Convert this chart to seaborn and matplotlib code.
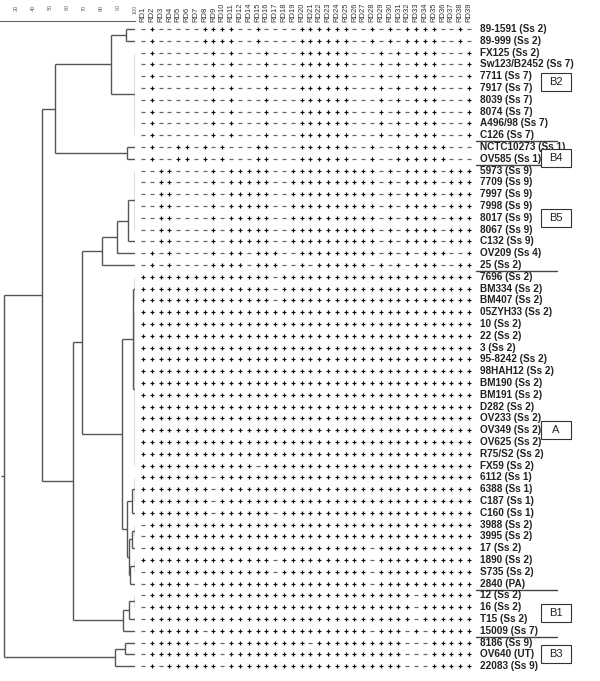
import numpy as np
import pandas as pd
import matplotlib
matplotlib.use("Agg")
import matplotlib.pyplot as plt
from matplotlib.patches import Rectangle
import seaborn as sns

sns.set_theme(style="white")
plt.rcParams["font.family"] = ["Liberation Sans", "DejaVu Sans"]

# ---------------- data ----------------
strains = ["89-1591 (Ss 2)", "89-999 (Ss 2)", "FX125 (Ss 2)", "Sw123/B2452 (Ss 7)", "7711 (Ss 7)",
           "7917 (Ss 7)", "8039 (Ss 7)", "8074 (Ss 7)", "A496/98 (Ss 7)", "C126 (Ss 7)",
           "NCTC10273 (Ss 1)", "OV585 (Ss 1)", "5973 (Ss 9)", "7709 (Ss 9)", "7997 (Ss 9)",
           "7998 (Ss 9)", "8017 (Ss 9)", "8067 (Ss 9)", "C132 (Ss 9)", "OV209 (Ss 4)",
           "25 (Ss 2)", "7696 (Ss 2)", "BM334 (Ss 2)", "BM407 (Ss 2)", "05ZYH33 (Ss 2)",
           "10 (Ss 2)", "22 (Ss 2)", "3 (Ss 2)", "95-8242 (Ss 2)", "98HAH12 (Ss 2)",
           "BM190 (Ss 2)", "BM191 (Ss 2)", "D282 (Ss 2)", "OV233 (Ss 2)", "OV349 (Ss 2)",
           "OV625 (Ss 2)", "R75/S2 (Ss 2)", "FX59 (Ss 2)", "6112 (Ss 1)", "6388 (Ss 1)",
           "C187 (Ss 1)", "C160 (Ss 1)", "3988 (Ss 2)", "3995 (Ss 2)", "17 (Ss 2)",
           "1890 (Ss 2)", "S735 (Ss 2)", "2840 (PA)", "12 (Ss 2)", "16 (Ss 2)",
           "T15 (Ss 2)", "15009 (Ss 7)", "8186 (Ss 9)", "OV640 (UT)", "22083 (Ss 9)"]

rd_labels = ["RD1", "RD2", "RD3", "RD4", "RD5", "RD6", "RD7", "RD8", "RD9", "RD10", "RD11",
             "RD12", "RD14", "RD15", "RD16", "RD17", "RD18", "RD19", "RD20", "RD21", "RD22",
             "RD23", "RD24", "RD25", "RD26", "RD27", "RD28", "RD29", "RD30", "RD31", "RD32",
             "RD33", "RD34", "RD35", "RD36", "RD37", "RD38", "RD39"]

profiles = [
    "-+-----++++--+----++++++--+-+-++++--+--",
    "-+-----++++--+----++++++--+-+-++++--+--",
    "-+------+-+---+---++++++---+-+-+++---+-",
    "-+------+-+---+---++++++---+-+-+++---+-",
    "-+------+-+---+---++++++---+-+-+++---+-",
    "-+------+-+---+---++++++---+-+-+++---+-",
    "-+------+-+---+---++++++---+-+-+++---+-",
    "-+------+-+---+---++++++---+-+-+++---+-",
    "-+------+-+---+---++++++---+-+-+++---+-",
    "-+------+-+---+---++++++---+-+-+++---+-",
    "-+--++-+-+---++---++++++--+--++++++---+",
    "-+--++-+-+---++---++++++--+--++++++---+",
    "--++----+-+++++--++++++++++-+-++++-++++",
    "--++----+-+++++--++++++++++-+-++++-++++",
    "--++----+-+++++--++++++++++-+-++++-++++",
    "--++----+-+++++--++++++++++-+-++++-++++",
    "--++----+-+++++--++++++++++-+-++++-++++",
    "--++----+-+++++--++++++++++-+-++++-++++",
    "--++----+-+++++--++++++++++-+-++++-++++",
    "-+-+----+-++-+++--+++++++++-+-+-+++--++",
    "-+-+----++++-+++--+-++++++-+-+-+++--+++",
    "+++++++++++++++-+++++++++++++++++++++++",
    "+++++++++++++++-+++++++++++++++++++++++",
    "+++++++++++++++-+++++++++++++++++++++++",
    "+++++++++++++++++++++++++++++++++++++++",
    "+++++++++++++++++++++++++++++++++++++++",
    "+++++++++++++++++++++++++++++++++++++++",
    "+++++++++++++++++++++++++++++++++++++++",
    "+++++++++++++++++++++++++++++++++++++++",
    "+++++++++++++++++++++++++++++++++++++++",
    "+++++++++++++++++++++++++++++++++++++++",
    "+++++++++++++++++++++++++++++++++++++++",
    "+++++++++++++++++++++++++++++++++++++++",
    "+++++++++++++++++++++++++++++++++++++++",
    "+++++++++++++++++++++++++++++++++++++++",
    "+++++++++++++++++++++++++++++++++++++++",
    "+++++++++++++++++++++++++++++++++++++++",
    "+++++++++++++-+++++++++++++++++++++++++",
    "++++++++-++++++++++++++++++++++++++++++",
    "++++++++-++++++++++++++++++++++++++++++",
    "++++++++-++++++++++++++++++++++++++++++",
    "++++++++-++++++-+++++++++++++++++++++++",
    "-++++++++++++++++++++++++++++++++++++++",
    "-++++++++++++++++++++++++++++++++++++++",
    "-+++++++++++++++++++++++++-++++++++++++",
    "+++++++++++++++-++++++++++-++++++++++++",
    "-++++++++++++++-++++++++++-++++++++++++",
    "-+++++-+++++++++++++++++++-++++++++++++",
    "-++++++++++++++++++++++++++++++-+++++++",
    "-++++++++++++++++++++++++++++++-+++++++",
    "-++++++++++++++++++++++++++++++-+++++++",
    "-++++++-++++++++++++++++++-+++-+-++++++",
    "-+++++-++-+++++++++-++++++++++---++++++",
    "-++++++++-++++++++++++++++++++---++++++",
    "-+-++++++-++++++++++++++++++++---++++++",
]

# dendrogram nodes: name, similarity (%), children (leaf indices or node names)
node_names = ["b2a", "b2b", "b2", "b4", "b24",
              "b5a", "b5b", "b5c", "b5",
              "a1", "a2", "a12", "a3", "a34", "a5", "a56", "a7", "a78", "aL", "aB", "a",
              "y", "b1a", "b1b", "b1", "x", "up", "b3a", "b3", "root"]
node_sims = [94.7, 100, 85.9, 95.3, 52.9,
             100, 95.9, 89.4, 80.6,
             100, 100, 98.6, 100, 98.0, 100, 98.0, 100, 97.0, 96.5, 95.5, 92.5,
             68.8, 100, 96.5, 93.0, 63.5, 45.3, 94.0, 88.0, 22.9]
node_children = [[0, 1], list(range(2, 10)), ["b2a", "b2b"], [10, 11], ["b2", "b4"],
                 list(range(12, 18)), ["b5a", 18], ["b5b", 19], ["b5c", 20],
                 [21, 22, 23], list(range(24, 38)), ["a1", "a2"], [38, 39, 40], ["a3", 41],
                 [42, 43], ["a5", 44], [45, 46], ["a7", 47], ["a56", "a78"], ["a34", "aL"], ["a12", "aB"],
                 ["b5", "a"], [48, 49], ["b1a", 50], ["b1b", 51], ["y", "b1"], ["b24", "x"],
                 [52, 53], ["b3a", 54], ["up", "b3"]]

scale_ticks = [30, 40, 50, 60, 70, 80, 90, 100]

group_names = ["B2", "B4", "B5", "A", "B1", "B3"]
group_label_rows = [4.5, 10.95, 16.0, 34.0, 49.5, 53.0]
separator_after_rows = [9, 11, 20, 47, 51]

# ---------------- layout ----------------
W, H = 600, 681
n_rows, n_cols = len(strains), len(rd_labels)
row_y0, row_dy = 29.0, 11.8
col_x0, col_dx = 143.0, 8.81

fig = plt.figure(figsize=(W / 100, H / 100), dpi=100)
fig.patch.set_facecolor("white")

def fig_rect(x0, y0, x1, y1):
    return [x0 / W, 1 - y1 / H, (x1 - x0) / W, (y1 - y0) / H]

top_px = row_y0 - row_dy / 2
bot_px = row_y0 + (n_rows - 0.5) * row_dy

# matrix axis
mx0 = col_x0 - col_dx / 2
mx1 = col_x0 + (n_cols - 0.5) * col_dx
ax_m = fig.add_axes(fig_rect(mx0, top_px, mx1, bot_px))
recs = []
for i, p in enumerate(profiles):
    for j in range(n_cols):
        recs.append({"row": i, "col": j, "val": p[j]})
df = pd.DataFrame(recs)
sns.scatterplot(data=df[df.val == "+"], x="col", y="row", marker="+", s=12,
                color="#111111", linewidth=0.85, ax=ax_m, legend=False)
sns.scatterplot(data=df[df.val == "-"], x="col", y="row", marker="_", s=5,
                color="#666666", linewidth=0.9, ax=ax_m, legend=False)
ax_m.set_xlim(-0.5, n_cols - 0.5)
ax_m.set_ylim(n_rows - 0.5, -0.5)
ax_m.axis("off")

for i, s in enumerate(strains):
    ax_m.text(n_cols - 0.5 + 0.75, i, s, ha="left", va="center", fontsize=7.2,
              fontweight="bold", color="#222222", clip_on=False)
for j, lab in enumerate(rd_labels):
    ax_m.text(j, -0.6, lab, rotation=90, ha="center", va="bottom", fontsize=5.5,
              color="#333333", clip_on=False)

# separators and group boxes
lab_x0 = n_cols - 0.5 + 0.3
lab_x1 = n_cols - 0.5 + 9.5
for r in separator_after_rows:
    ax_m.plot([lab_x0, lab_x1], [r + 0.5, r + 0.5], color="#444444", lw=1.0, clip_on=False)
box_x0 = (541 - col_x0) / col_dx
box_w = 30 / col_dx
box_h = 18 / row_dy
for g, r in zip(group_names, group_label_rows):
    ax_m.add_patch(Rectangle((box_x0, r - box_h / 2), box_w, box_h, fc="white",
                             ec="#333333", lw=0.8, clip_on=False, zorder=5))
    ax_m.text(box_x0 + box_w / 2, r, g, ha="center", va="center", fontsize=8,
              color="#222222", clip_on=False, zorder=6)

# dendrogram axis
leaf_px = 135.0
px_per_unit = 1.7
sim_min = 100 - (leaf_px - 0) / px_per_unit
ax_d = fig.add_axes(fig_rect(0, top_px, leaf_px, bot_px))
ax_d.set_xlim(sim_min, 100)
ax_d.set_ylim(n_rows - 0.5, -0.5)
ax_d.axis("off")

pos = {}
def node_pos(c):
    if isinstance(c, int):
        return 100.0, float(c)
    return pos[c]

segs = []
for name, sim, ch in zip(node_names, node_sims, node_children):
    pts = [node_pos(c) for c in ch]
    ys = [p[1] for p in pts]
    for (cx, cy) in pts:
        if cx != sim:
            segs.append(((cx, cy), (sim, cy)))
    segs.append(((sim, min(ys)), (sim, max(ys))))
    pos[name] = (sim, (min(ys) + max(ys)) / 2)
rx, ry = pos["root"]
segs.append(((rx - 1.5, ry), (rx, ry)))
for (a, b) in segs:
    ax_d.plot([a[0], b[0]], [a[1], b[1]], color="#555555", lw=1.0, solid_capstyle="butt")

# similarity scale
ax_s = fig.add_axes(fig_rect(0, 6, leaf_px, 21))
ax_s.set_xlim(sim_min, 100)
ax_s.set_ylim(0, 1)
for sp in ["top", "left", "right"]:
    ax_s.spines[sp].set_visible(False)
ax_s.spines["bottom"].set_color("#666666")
ax_s.spines["bottom"].set_linewidth(0.8)
ax_s.set_yticks([])
ax_s.set_xticks(scale_ticks)
ax_s.set_xticks(np.arange(25, 101, 1), minor=True)
ax_s.tick_params(axis="x", which="major", direction="in", length=3, labelsize=4,
                 labelrotation=90, pad=-12, colors="#666666")
ax_s.tick_params(axis="x", which="minor", direction="in", length=1.5, colors="#888888")
ax_s.set_facecolor("none")

fig.savefig("out.png", dpi=100, facecolor="white")
